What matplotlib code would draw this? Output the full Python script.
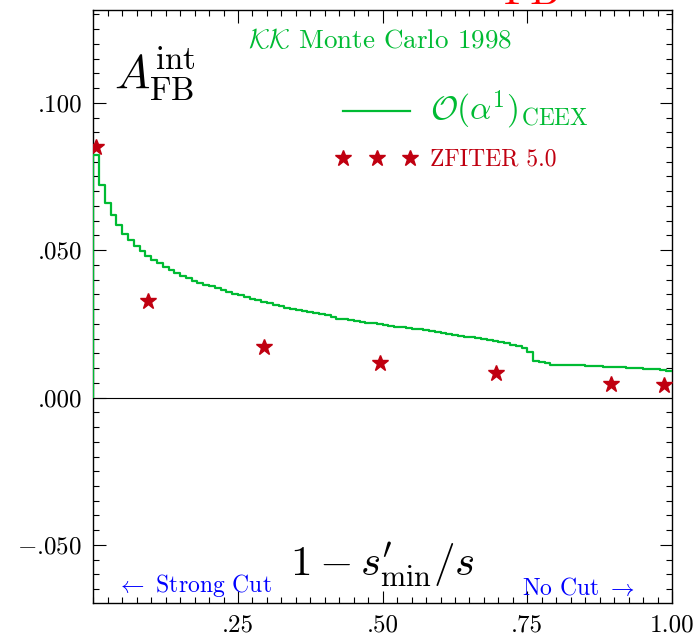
import numpy as np
import matplotlib
matplotlib.use("Agg")
import matplotlib.pyplot as plt
from matplotlib.ticker import MultipleLocator, FixedLocator, FixedFormatter

plt.rcParams['mathtext.fontset'] = 'cm'
plt.rcParams['font.family'] = ['cmr10', 'DejaVu Serif']
plt.rcParams['axes.unicode_minus'] = False
plt.rcParams['axes.formatter.use_mathtext'] = True

## KK Monte Carlo O(alpha^1) CEEX histogram, 100 bins on [0, 1]
edges = np.linspace(0.0, 1.0, 101)
kk_vals = [0.0824, 0.0721, 0.0661, 0.0618, 0.0584, 0.0556, 0.0533, 0.0514, 0.0497, 0.0481,
           0.0468, 0.0456, 0.0443, 0.0432, 0.0422, 0.0413, 0.0405, 0.0397, 0.0390, 0.0383,
           0.0377, 0.0370, 0.0364, 0.0358, 0.0353, 0.0348, 0.0341, 0.0335, 0.0330, 0.0325,
           0.0320, 0.0313, 0.0309, 0.0305, 0.0301, 0.0297, 0.0293, 0.0290, 0.0286, 0.0283,
           0.0279, 0.0273, 0.0268, 0.0265, 0.0263, 0.0260, 0.0257, 0.0254, 0.0252, 0.0249,
           0.0246, 0.0243, 0.0241, 0.0238, 0.0235, 0.0233, 0.0231, 0.0228, 0.0225, 0.0222,
           0.0219, 0.0216, 0.0213, 0.0210, 0.0207, 0.0204, 0.0201, 0.0198, 0.0195, 0.0192,
           0.0188, 0.0184, 0.0180, 0.0175, 0.0167, 0.0156, 0.0125, 0.0120, 0.0116, 0.0112,
           0.0111, 0.0111, 0.0110, 0.0110, 0.0109, 0.0108, 0.0107, 0.0106, 0.0105, 0.0104,
           0.0103, 0.0102, 0.0101, 0.0100, 0.0099, 0.0098, 0.0098, 0.0097, 0.0094, 0.0090]

## ZFITER 5.0 points
zf_x = [0.004, 0.095, 0.295, 0.495, 0.695, 0.895, 0.987]
zf_y = [0.0851, 0.0327, 0.0173, 0.0116, 0.0085, 0.0046, 0.0042]

xticks = [0.25, 0.50, 0.75, 1.00]
xtick_labels = ['.25', '.50', '.75', '1.00']
yticks = [-0.05, 0.0, 0.05, 0.10]
ytick_labels = [r'$-$.050', '.000', '.050', '.100']

green = '#00bb33'
red = '#c00010'

fig = plt.figure(figsize=(6.99, 6.40), dpi=100)
ax = fig.add_axes([0.1335, 0.0578, 0.8279, 0.9262])

vals = np.array(kk_vals)
line, = ax.step(edges, np.append(vals, vals[-1]), where='post', color=green, lw=1.6, zorder=3)
ax.vlines(edges[0], 0, vals[0], color=green, lw=1.6, zorder=3)
stars, = ax.plot(zf_x, zf_y, ls='none', marker='*', ms=12, color=red, mec=red, zorder=4)

ax.axhline(0, color='black', lw=0.8, zorder=2)

ax.set_xlim(0, 1)
ax.set_ylim(-0.0697, 0.1314)

ax.xaxis.set_major_locator(FixedLocator(xticks))
ax.xaxis.set_major_formatter(FixedFormatter(xtick_labels))
ax.xaxis.set_minor_locator(MultipleLocator(0.025))
ax.yaxis.set_major_locator(FixedLocator(yticks))
ax.yaxis.set_major_formatter(FixedFormatter(ytick_labels))
ax.yaxis.set_minor_locator(MultipleLocator(0.005))

ax.tick_params(which='both', direction='in', top=True, right=True, width=0.8)
ax.tick_params(which='major', length=9, labelsize=18, pad=8)
ax.tick_params(which='minor', length=4.5)
for s in ax.spines.values():
    s.set_linewidth(1.0)

# texts
ax.text(0.035, 0.94, r'$A_{\rm FB}^{\rm int}$', transform=ax.transAxes,
        fontsize=34, va='top', ha='left')
ax.text(0.268, 0.970, r'$\mathcal{KK}$ Monte Carlo 1998', transform=ax.transAxes,
        fontsize=19.5, color=green, va='top', ha='left')
ax.text(0.50, 0.045, r'$1-s^{\prime}_{\rm min}/s$', transform=ax.transAxes,
        fontsize=31, va='baseline', ha='center')
ax.text(0.04, 0.018, r'$\leftarrow$ Strong Cut', transform=ax.transAxes,
        fontsize=17, color='blue', va='baseline', ha='left')
ax.text(0.741, 0.013, r'No Cut $\rightarrow$', transform=ax.transAxes,
        fontsize=17, color='blue', va='baseline', ha='left')

# red title, mostly cut off above the figure
fig.text(0.72, 0.993, 'FB', fontsize=30, color='red', va='baseline', ha='left')

leg = ax.legend([line, stars], [r'$\mathcal{O}(\alpha^1)_{\rm CEEX}$', 'ZFITER 5.0'],
                loc='upper left', bbox_to_anchor=(0.42, 0.868), frameon=False,
                numpoints=3, handlelength=3.4, handletextpad=0.55, borderpad=0,
                borderaxespad=0, labelspacing=0.75, fontsize=17)
txts = leg.get_texts()
txts[0].set_color(green)
txts[0].set_fontsize(24)
txts[1].set_color(red)

fig.savefig('out.png', dpi=100)
